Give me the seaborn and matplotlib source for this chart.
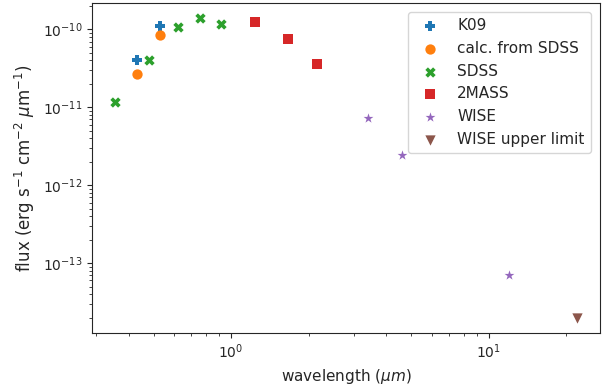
import numpy as np
import seaborn as sns
import matplotlib
matplotlib.use("Agg")
import matplotlib.pyplot as plt

sns.set_style("ticks")

# wavelengths (micron) and fluxes (erg s^-1 cm^-2 micron^-1)
k09_wl = [0.43, 0.53]
k09_flux = [4.1e-11, 1.1e-10]

calc_wl = [0.43, 0.53]
calc_flux = [2.65e-11, 8.4e-11]

sdss_wl = [0.355, 0.48, 0.625, 0.76, 0.91]
sdss_flux = [1.17e-11, 4.1e-11, 1.08e-10, 1.4e-10, 1.17e-10]

tmass_wl = [1.235, 1.662, 2.159]
tmass_flux = [1.24e-10, 7.6e-11, 3.56e-11]

wise_wl = [3.41, 4.6, 12.0]
wise_flux = [7.3e-12, 2.44e-12, 7.0e-14]

wise_ul_wl = [22.0]
wise_ul_flux = [2.0e-14]

series = [
    (k09_wl, k09_flux, "P", "K09"),
    (calc_wl, calc_flux, "o", "calc. from SDSS"),
    (sdss_wl, sdss_flux, "X", "SDSS"),
    (tmass_wl, tmass_flux, "s", "2MASS"),
    (wise_wl, wise_flux, "*", "WISE"),
    (wise_ul_wl, wise_ul_flux, "v", "WISE upper limit"),
]
colors = sns.color_palette("tab10")

fig, ax = plt.subplots(figsize=(6.06, 3.85), dpi=100)
for i, (wl, fl, mk, lab) in enumerate(series):
    sns.scatterplot(x=wl, y=fl, marker=mk, color=colors[i], s=55,
                    linewidth=0, label=lab, ax=ax)

ax.set_xscale("log")
ax.set_yscale("log")
ax.set_xlabel(r"wavelength ($\mu m$)", fontsize=11)
ax.set_ylabel(r"flux (erg s$^{-1}$ cm$^{-2}$ $\mu$m$^{-1}$)", fontsize=12)
ax.legend(loc="upper right", scatterpoints=1, fontsize=11, borderaxespad=0.6)

fig.subplots_adjust(left=0.152, right=0.99, bottom=0.136, top=0.992)
fig.savefig("out.png", dpi=100)
